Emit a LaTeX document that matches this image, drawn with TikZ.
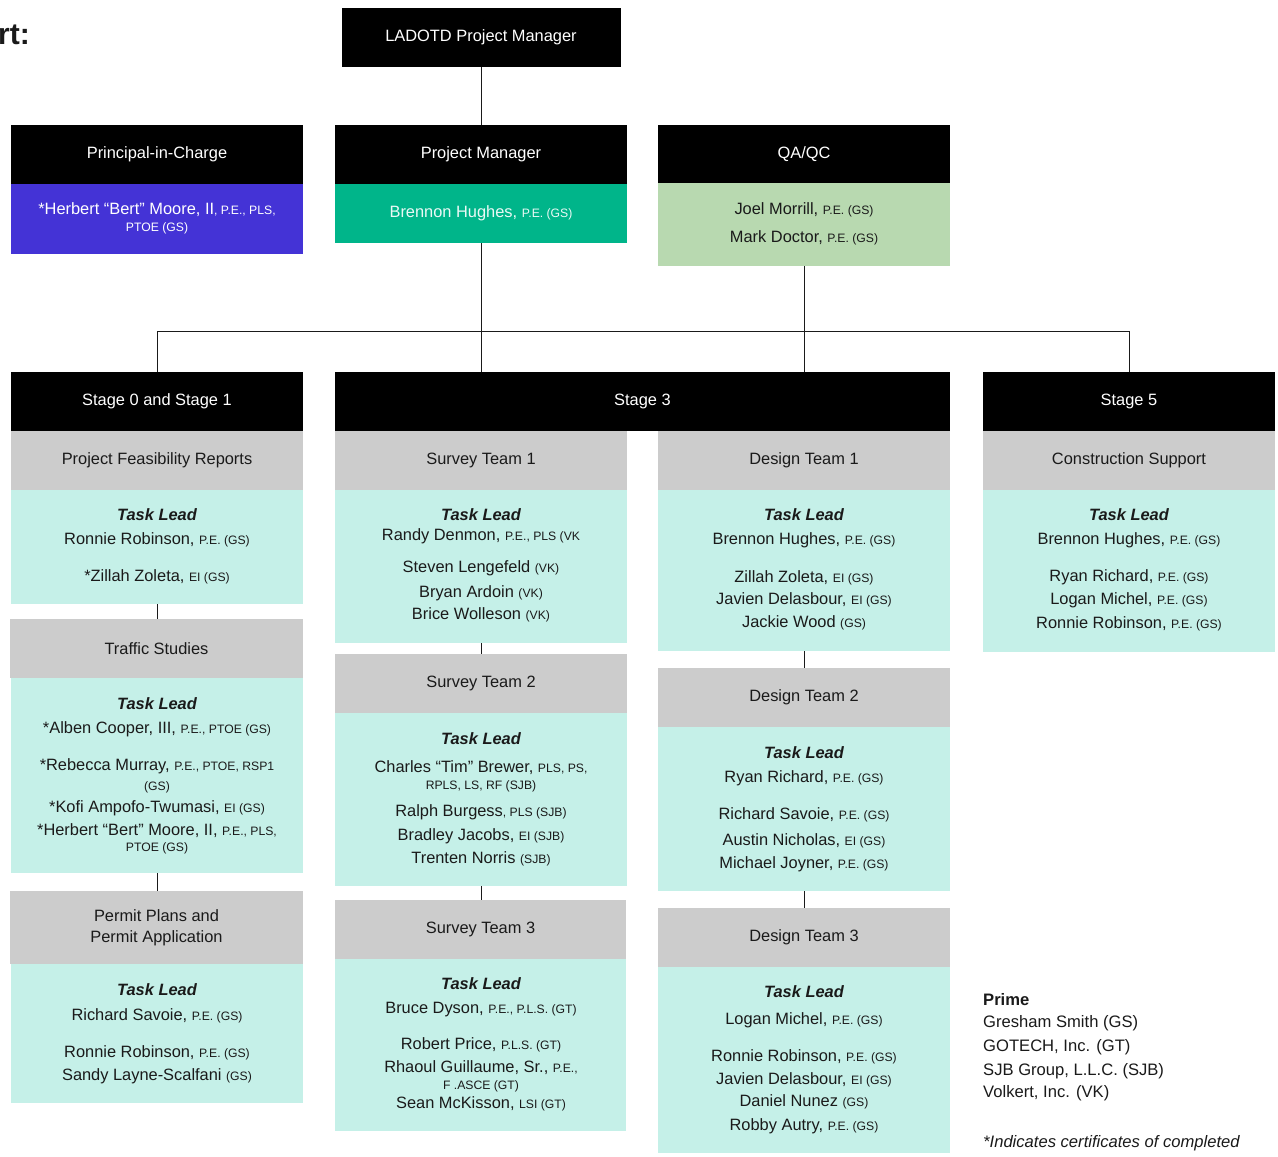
\documentclass[tikz,border=0pt]{standalone}
\usepackage{fontspec}
\setmainfont{Liberation Sans}
\definecolor{mint}{HTML}{C5F0E8}
\definecolor{greyhdr}{HTML}{CCCCCC}
\definecolor{pblue}{HTML}{4433D6}
\definecolor{pmteal}{HTML}{00B58A}
\definecolor{qagreen}{HTML}{B8D9B0}
\definecolor{ink}{HTML}{1A1A1A}
\newcounter{tlc}
\newcommand\tline[3]{\stepcounter{tlc}\node[txt] (tl\arabic{tlc}) at (#1,{#2+5.5}) {#3};}
\newcommand\cred[1]{{\fontsize{12.2}{13}\selectfont #1}}
\newcommand\tlead{{\bfseries\itshape Task Lead}}
\begin{document}
\begin{tikzpicture}[x=1pt,y=-1pt,
  box/.style={rectangle,inner sep=0pt,outer sep=0pt,minimum width=292pt,font=\fontsize{16.4}{20}\selectfont,align=center},
  hdr/.style={box,fill=black,text=white,minimum height=59pt},
  sub/.style={box,fill=greyhdr,text=ink,minimum height=59pt},
  body/.style={box,fill=mint},
  txt/.style={anchor=base,inner sep=0pt,text=ink,font=\fontsize{16.4}{19}\selectfont},
  leg/.style={anchor=base west,inner sep=0pt,text=ink,font=\fontsize{16.6}{19}\selectfont},
  conn/.style={draw=ink,line width=0.9pt}]
\useasboundingbox (0,0) rectangle (1278,1157);
\fill[white] (0,0) rectangle (1278,1157);

\node[anchor=base east,inner sep=0pt,font=\fontsize{30}{34}\selectfont\bfseries,text=ink] (title) at (30,44) {rt:};

% top
\node[hdr,minimum width=279pt] (lad) at (481,37.5) {LADOTD Project Manager};

% row 2
\node[hdr] (pic) at (157,154.5) {Principal-in-Charge};
\node[box,fill=pblue,minimum height=70pt] (picb) at (157,219) {};
\tline{157}{209}{\textcolor{white}{*Herbert “Bert” Moore, II\cred{, P.E., PLS,}}}
\tline{157}{226}{\textcolor{white}{\cred{PTOE (GS)}}}

\node[hdr] (pm) at (481,154.5) {Project Manager};
\node[box,fill=pmteal,minimum height=59pt] (pmb) at (481,213.5) {};
\tline{481}{212}{\textcolor{white!92!pmteal}{Brennon Hughes, \cred{P.E. (GS)}}}

\node[hdr,minimum height=58pt] (qa) at (804,154) {QA/QC};
\node[box,fill=qagreen,minimum height=83pt] (qab) at (804,224.5) {};
\tline{804}{209}{Joel Morrill, \cred{P.E. (GS)}}
\tline{804}{237}{Mark Doctor, \cred{P.E. (GS)}}

% stage headers
\node[hdr] (st0) at (157,401.5) {Stage 0 and Stage 1};
\node[hdr,minimum width=615pt] (st3) at (642.5,401.5) {Stage 3};
\node[hdr] (st5) at (1129,401.5) {Stage 5};

% column 1
\node[sub] (pfr) at (157,460.5) {Project Feasibility Reports};
\node[body,minimum height=114pt] (pfrb) at (157,547) {};
\tline{157}{515}{\tlead}
\tline{157}{539}{Ronnie Robinson, \cred{P.E. (GS)}}
\tline{157}{576}{*Zillah Zoleta, \cred{EI (GS)}}

\node[sub,minimum width=293pt] (ts) at (156.5,648.5) {Traffic Studies};
\node[body,minimum height=195pt] (tsb) at (157,775.5) {};
\tline{157}{704}{\tlead}
\tline{157}{728}{*Alben Cooper, III, \cred{P.E., PTOE (GS)}}
\tline{157}{765}{*Rebecca Murray, \cred{P.E., PTOE, RSP1}}
\tline{157}{785}{\cred{(GS)}}
\tline{157}{807}{*Kofi Ampofo-Twumasi, \cred{EI (GS)}}
\tline{157}{830}{*Herbert “Bert” Moore, II, \cred{P.E., PLS,}}
\tline{157}{846}{\cred{PTOE (GS)}}

\node[sub,minimum width=293pt,minimum height=73pt,font=\fontsize{16.4}{21}\selectfont] (pp) at (156.5,927.5) {Permit Plans and\\Permit Application};
\node[body,minimum height=139pt] (ppb) at (157,1033.5) {};
\tline{157}{990}{\tlead}
\tline{157}{1015}{Richard Savoie, \cred{P.E. (GS)}}
\tline{157}{1052}{Ronnie Robinson, \cred{P.E. (GS)}}
\tline{157}{1075}{Sandy Layne-Scalfani \cred{(GS)}}

% column 2
\node[sub] (sv1) at (481,460.5) {Survey Team 1};
\node[body,minimum height=153pt] (sv1b) at (481,566.5) {};
\tline{481}{515}{\tlead}
\tline{481}{535}{Randy Denmon, \cred{P.E., PLS (VK}}
\tline{481}{567}{Steven Lengefeld \cred{(VK)}}
\tline{481}{592}{Bryan Ardoin \cred{(VK)}}
\tline{481}{614}{Brice Wolleson \cred{(VK)}}

\node[sub] (sv2) at (481,683.5) {Survey Team 2};
\node[body,minimum height=173pt] (sv2b) at (481,799.5) {};
\tline{481}{739}{\tlead}
\tline{481}{767}{Charles “Tim” Brewer, \cred{PLS, PS,}}
\tline{481}{784}{\cred{RPLS, LS, RF (SJB)}}
\tline{481}{811}{Ralph Burgess\cred{, PLS (SJB)}}
\tline{481}{835}{Bradley Jacobs, \cred{EI (SJB)}}
\tline{481}{858}{Trenten Norris \cred{(SJB)}}

\node[sub,minimum width=291pt] (sv3) at (480.5,929.5) {Survey Team 3};
\node[body,minimum width=291pt,minimum height=172pt] (sv3b) at (480.5,1045) {};
\tline{481}{984}{\tlead}
\tline{481}{1008}{Bruce Dyson, \cred{P.E., P.L.S. (GT)}}
\tline{481}{1044}{Robert Price, \cred{P.L.S. (GT)}}
\tline{481}{1067}{Rhaoul Guillaume, Sr., \cred{P.E.,}}
\tline{481}{1084}{\cred{F .ASCE (GT)}}
\tline{481}{1103}{Sean McKisson, \cred{LSI (GT)}}

% column 3
\node[sub] (dt1) at (804,460.5) {Design Team 1};
\node[body,minimum height=161pt] (dt1b) at (804,570.5) {};
\tline{804}{515}{\tlead}
\tline{804}{539}{Brennon Hughes, \cred{P.E. (GS)}}
\tline{804}{577}{Zillah Zoleta, \cred{EI (GS)}}
\tline{804}{599}{Javien Delasbour, \cred{EI (GS)}}
\tline{804}{622}{Jackie Wood \cred{(GS)}}

\node[sub] (dt2) at (804,697.5) {Design Team 2};
\node[body,minimum height=164pt] (dt2b) at (804,809) {};
\tline{804}{753}{\tlead}
\tline{804}{777}{Ryan Richard, \cred{P.E. (GS)}}
\tline{804}{814}{Richard Savoie, \cred{P.E. (GS)}}
\tline{804}{840}{Austin Nicholas, \cred{EI (GS)}}
\tline{804}{863}{Michael Joyner, \cred{P.E. (GS)}}

\node[sub] (dt3) at (804,937.5) {Design Team 3};
\node[body,minimum height=186pt] (dt3b) at (804,1060) {};
\tline{804}{992}{\tlead}
\tline{804}{1019}{Logan Michel, \cred{P.E. (GS)}}
\tline{804}{1056}{Ronnie Robinson, \cred{P.E. (GS)}}
\tline{804}{1079}{Javien Delasbour, \cred{EI (GS)}}
\tline{804}{1101}{Daniel Nunez \cred{(GS)}}
\tline{804}{1125}{Robby Autry, \cred{P.E. (GS)}}

% column 4
\node[sub] (cs) at (1129,460.5) {Construction Support};
\node[body,minimum height=162pt] (csb) at (1129,571) {};
\tline{1129}{515}{\tlead}
\tline{1129}{539}{Brennon Hughes, \cred{P.E. (GS)}}
\tline{1129}{576}{Ryan Richard, \cred{P.E. (GS)}}
\tline{1129}{599}{Logan Michel, \cred{P.E. (GS)}}
\tline{1129}{623}{Ronnie Robinson, \cred{P.E. (GS)}}

% legend
\node[leg,font=\fontsize{16.6}{19}\selectfont\bfseries] (lg0) at (983,1005) {Prime};
\node[leg] (lg1) at (983,1027) {Gresham Smith (GS)};
\node[leg] (lg2) at (983,1051) {GOTECH, Inc. (GT)};
\node[leg] (lg3) at (983,1075) {SJB Group, L.L.C. (SJB)};
\node[leg] (lg4) at (983,1097) {Volkert, Inc. (VK)};
\node[leg,font=\fontsize{16.6}{19}\selectfont\itshape] (fn) at (983,1147) {*Indicates certificates of completed};

% connectors
\draw[conn] (lad.south) -- (pm.north);
\draw[conn] (pmb.south) -- (pmb.south |- st3.north);
\draw[conn] (qab.south) -- (qab.south |- st3.north);
\coordinate (bus) at (1129,331);
\draw[conn] (st0.north) |- (bus) -- (st5.north);
\draw[conn] (pfrb.south) -- (pfrb.south |- ts.north);
\draw[conn] (tsb.south) -- (tsb.south |- pp.north);
\draw[conn] (sv1b.south) -- (sv1b.south |- sv2.north);
\draw[conn] (sv2b.south) -- (sv2b.south |- sv3.north);
\draw[conn] (dt1b.south) -- (dt2.north);
\draw[conn] (dt2b.south) -- (dt3.north);
\end{tikzpicture}
\end{document}
